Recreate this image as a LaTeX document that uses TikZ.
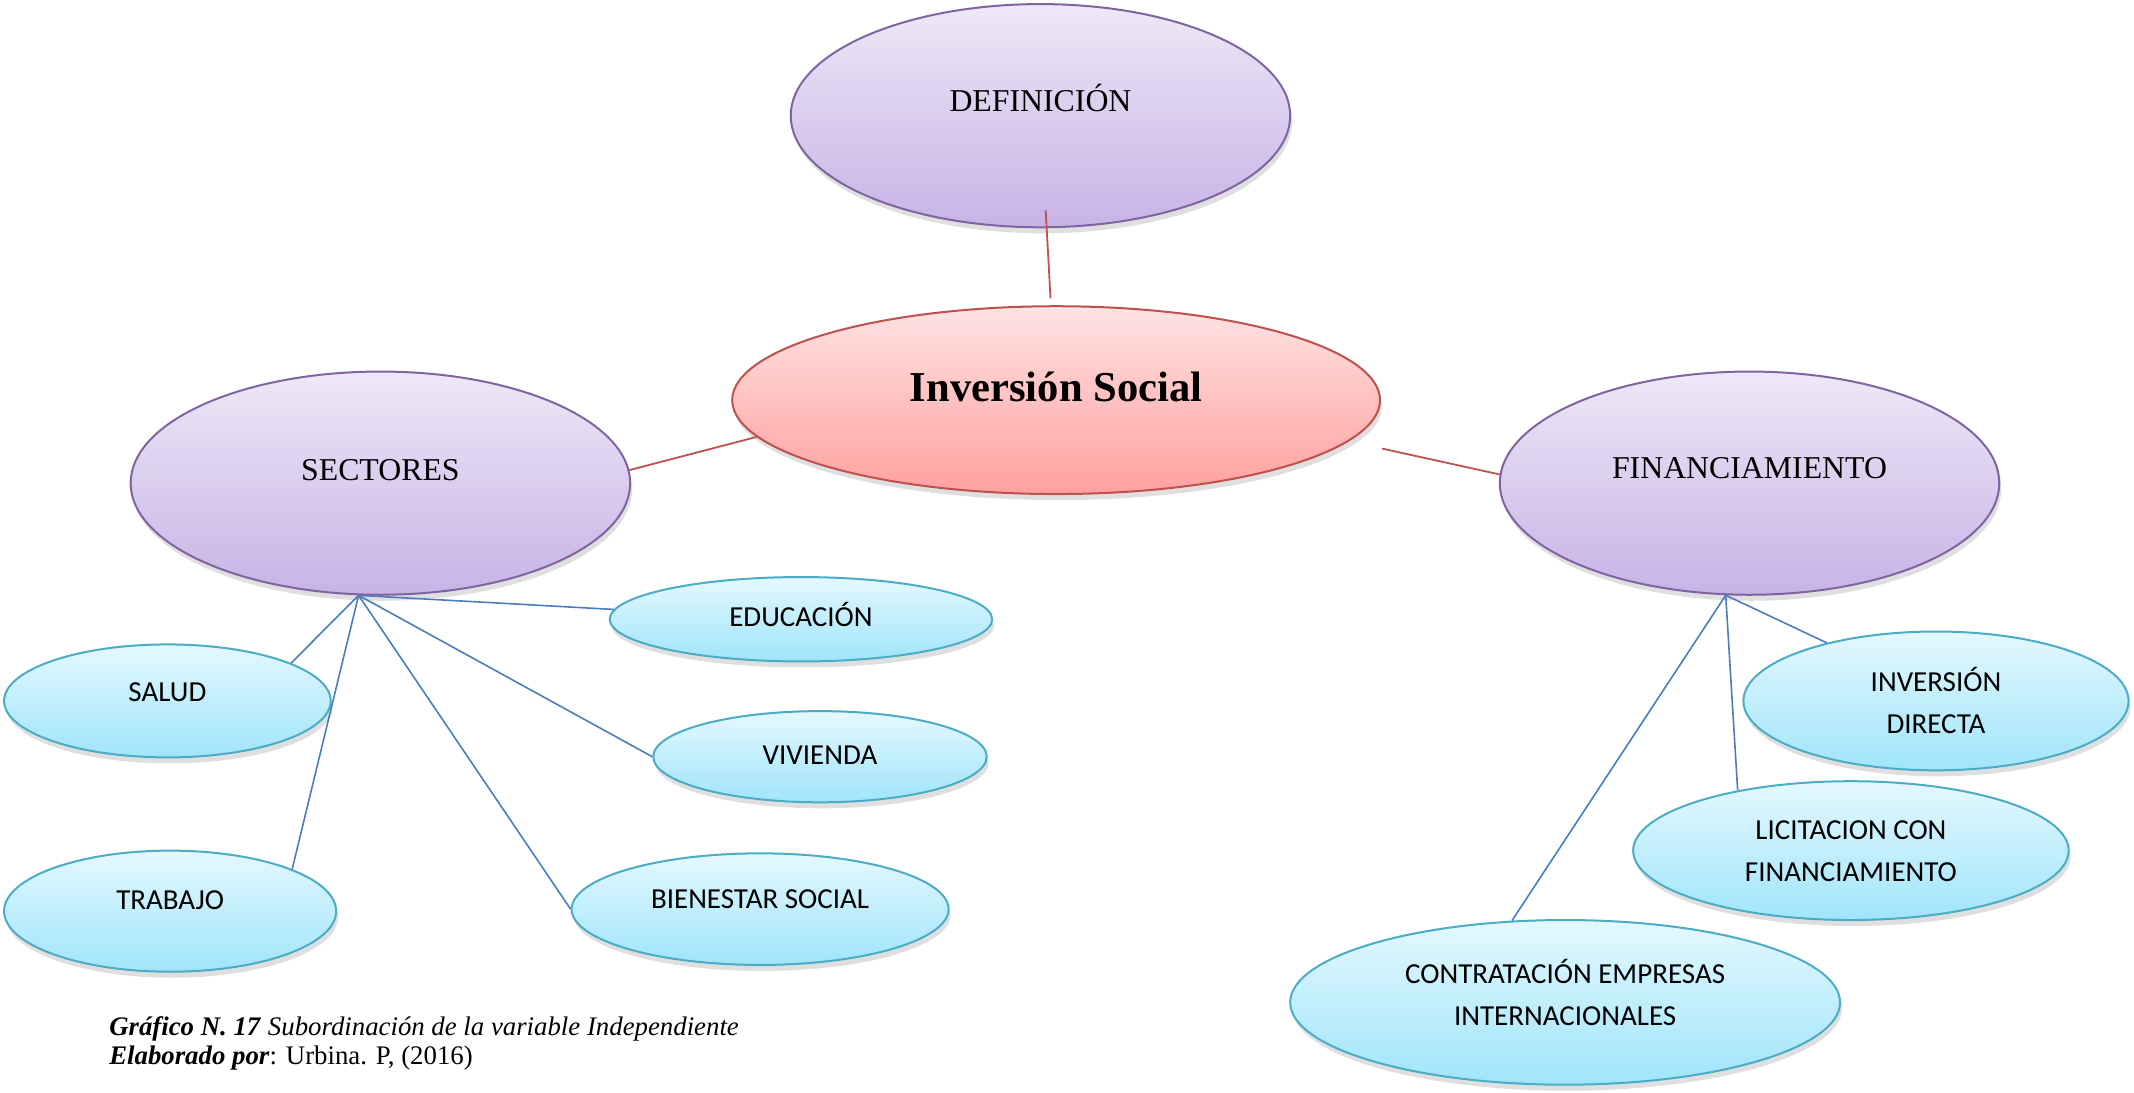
\documentclass[tikz,border=0pt]{standalone}
\usepackage{fontspec}
\setmainfont{Liberation Serif}
\newfontfamily\calib{Carlito}
\usetikzlibrary{shapes.geometric,shadows}
\definecolor{lavtop}{HTML}{EEE8F7}
\definecolor{lavbot}{HTML}{C7B3E6}
\definecolor{lavline}{HTML}{8064A2}
\definecolor{rosetop}{HTML}{FFE3E3}
\definecolor{rosebot}{HTML}{FFA09E}
\definecolor{roseline}{HTML}{C0504D}
\definecolor{skytop}{HTML}{E4F8FE}
\definecolor{skybot}{HTML}{A0E5FB}
\definecolor{skyline}{HTML}{4BACC6}
\definecolor{blueline}{HTML}{4A7EBB}
\tikzset{
  oval/.style 2 args={ellipse,inner sep=0pt,minimum width=#1*0.6805pt,minimum height=#2*0.6805pt,
    drop shadow={shadow xshift=1pt,shadow yshift=-3pt,opacity=0.25}},
  lav/.style={draw=lavline,line width=1pt,top color=lavtop,bottom color=lavbot},
  rose/.style={draw=roseline,line width=1pt,top color=rosetop,bottom color=rosebot},
  sky/.style={draw=skyline,line width=1pt,top color=skytop,bottom color=skybot},
  redln/.style={draw=roseline,line width=0.9pt},
  blueln/.style={draw=blueline,line width=0.8pt},
  big/.style={font=\fontsize{15.9}{19}\selectfont,text height=0.66em,text depth=0pt},
  small/.style={font=\calib\fontsize{14.5}{21}\selectfont,text height=0.64em,text depth=0pt},
  twoline/.style={font=\calib\fontsize{14.5}{21}\selectfont,align=center},
  caption/.style={anchor=base west,inner sep=0pt,font=\fontsize{13.4}{15}\selectfont},
}
\begin{document}
\begin{tikzpicture}[x=0.6805pt,y=-0.6805pt]
\useasboundingbox (0,0) rectangle (1568,803);
% main ovals
\node[oval={367}{164},lav,label={[big,yshift=5.5pt]center:DEFINICIÓN}] (def) at (764.5,85) {};
\node[oval={476}{138},rose,label={[font=\bfseries\fontsize{21.3}{25}\selectfont,text height=0.66em,text depth=0pt,yshift=2.7pt]center:Inversión Social}] (inv) at (776,294) {};
\node[oval={367}{164},lav,label={[big,yshift=4.8pt]center:SECTORES}] (sect) at (279.5,355) {};
\node[oval={367}{164},lav,label={[big,yshift=5.5pt]center:FINANCIAMIENTO}] (fin) at (1285.5,355) {};
% sectores
\node[oval={281}{62},sky,label={[small,yshift=-0.6pt]center:EDUCACIÓN}] (edu) at (588.5,455) {};
\node[oval={240}{83},sky,label={[small,yshift=2.7pt]center:SALUD}] (salud) at (123,515) {};
\node[oval={245}{67},sky,label={[small,yshift=-0.6pt]center:VIVIENDA}] (viv) at (602.5,556) {};
\node[oval={244}{89},sky,label={[small,yshift=4.1pt]center:TRABAJO}] (trab) at (125,669.5) {};
\node[oval={277}{82},sky,label={[small,yshift=3.4pt]center:BIENESTAR SOCIAL}] (bien) at (558.5,668) {};
% financiamiento
\node[oval={283}{102},sky,label={[twoline]center:{INVERSIÓN\\DIRECTA}}] (invd) at (1422.5,515) {};
\node[oval={320}{102},sky,label={[twoline,yshift=-0.3pt]center:{LICITACION CON\\FINANCIAMIENTO}}] (lic) at (1360,625) {};
\node[oval={404}{121},sky,label={[twoline,yshift=5.1pt]center:{CONTRATACIÓN EMPRESAS\\INTERNACIONALES}}] (cont) at (1150,736.5) {};
% connectors
\draw[redln,shorten <=-9pt,shorten >=3.4pt] (def) -- (inv);
\draw[redln] (sect.3) -- (inv.187);
\draw[redln,shorten <=17pt] (inv.-8) -- (fin.178);
\foreach \t/\a in {edu/177,salud/17,viv/180,trab/19,bien/180}
  \draw[blueln] (sect.-101) -- (\t.\a);
\foreach \t/\a in {invd/152,lic/152,cont/123}
  \draw[blueln] (fin.-102) -- (\t.\a);
% caption
\node[caption] (cap1) at (80,760.6)
  {\textbf{\textit{Gráfico N. 17}} \textit{Subordinación de la variable Independiente}};
\node[caption] (cap2) at (80,782.5)
  {\textbf{\textit{Elaborado por}}: Urbina. P, (2016)};
\end{tikzpicture}
\end{document}
